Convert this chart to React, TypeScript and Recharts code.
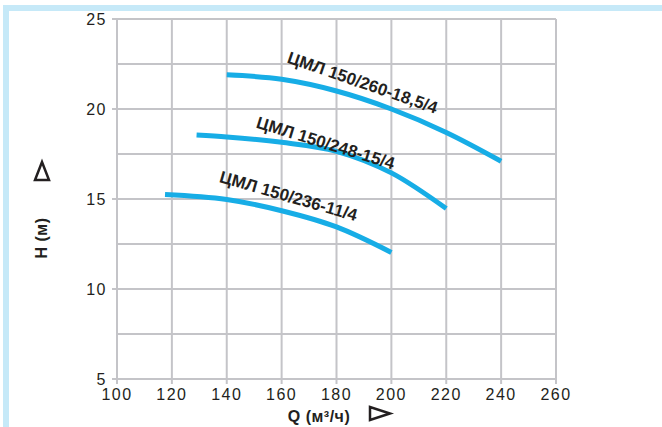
import { CartesianGrid, Customized, Line, LineChart, ReferenceDot, XAxis, YAxis } from "recharts";

const flowTicks = [100, 120, 140, 160, 180, 200, 220, 240, 260];
const headTicks = [5, 10, 15, 20, 25];
const headGrid = [5, 7.5, 10, 12.5, 15, 17.5, 20, 22.5, 25];

const flow260 = [140, 160, 180, 200, 220, 240];
const head260 = [21.9, 21.65, 21.0, 20.0, 18.7, 17.1];

const flow248 = [129, 140, 160, 180, 200, 220];
const head248 = [18.56, 18.45, 18.15, 17.65, 16.45, 14.47];

const flow236 = [117.5, 140, 160, 180, 200];
const head236 = [15.25, 14.97, 14.35, 13.45, 12.03];

const curveNames = ["ЦМЛ 150/260-18,5/4", "ЦМЛ 150/248-15/4", "ЦМЛ 150/236-11/4"];
const labelFlow = [189.5, 176, 162.5];
const labelHead = [21.45, 18.1, 15.15];
const labelAngle = [19, 17, 16];

const toRows = (q: number[], h: number[]) => q.map((v, i) => ({ q: v, h: h[i] }));

const BLUE = "#17ade6";
const GRID = "#c4c4c8";
const INK = "#231f20";
const FONT = "'Liberation Sans', Arial, sans-serif";

function CurveLabel(props: any, text: string, angle: number) {
  const { cx, cy } = props;
  return (
    <text
      x={cx}
      y={cy}
      transform={`rotate(${angle} ${cx} ${cy})`}
      textAnchor="middle"
      dominantBaseline="central"
      fontFamily={FONT}
      fontWeight="bold"
      fontSize={17}
      fill={INK}
    >
      {text}
    </text>
  );
}

function AxisTitles() {
  return (
    <g fontFamily={FONT} fontWeight="bold" fontSize={16} fill={INK}>
      <text x={319} y={422} textAnchor="middle" letterSpacing={0.5}>Q (м³/ч)</text>
      <polygon points="370,407 370,420 390,413.5" fill="none" stroke={INK} strokeWidth={2.5} strokeLinejoin="miter" />
      <text x={47} y={238} textAnchor="middle" letterSpacing={0.5} transform="rotate(-90 47 238)">H (м)</text>
      <polygon points="35,180 49,180 42,162" fill="none" stroke={INK} strokeWidth={2.5} strokeLinejoin="miter" />
    </g>
  );
}

const tickStyle = { fill: INK, fontSize: 16, fontFamily: FONT, letterSpacing: 1.5 };

export default function App() {
  return (
    <div style={{ position: "absolute", left: 0, top: 0, width: 662, height: 427, background: "#fff" }}>
      <div style={{ position: "absolute", left: 3, top: 5, width: 659, height: 6, background: "#c6e9f8" }} />
      <div style={{ position: "absolute", left: 3, top: 5, width: 6, height: 422, background: "#c6e9f8" }} />
      <div style={{ position: "absolute", left: 0, top: 0 }}>
        <LineChart width={662} height={427} margin={{ top: 19, right: 106, bottom: 18, left: 57 }}>
          <CartesianGrid
            stroke={GRID}
            strokeWidth={2}
            horizontalValues={headGrid}
            verticalValues={flowTicks}
          />
          <XAxis
            type="number"
            dataKey="q"
            domain={[100, 260]}
            ticks={flowTicks}
            allowDataOverflow
            height={30}
            stroke={GRID}
            strokeWidth={2}
            tickSize={5}
            tickMargin={5}
            tick={tickStyle}
          />
          <YAxis
            type="number"
            domain={[5, 25]}
            ticks={headTicks}
            allowDataOverflow
            width={60}
            stroke={GRID}
            strokeWidth={2}
            tickSize={5}
            tickMargin={5}
            tick={tickStyle}
          />
          <Line data={toRows(flow260, head260)} dataKey="h" type="monotone" stroke={BLUE} strokeWidth={5} dot={false} isAnimationActive={false} />
          <Line data={toRows(flow248, head248)} dataKey="h" type="monotone" stroke={BLUE} strokeWidth={5} dot={false} isAnimationActive={false} />
          <Line data={toRows(flow236, head236)} dataKey="h" type="monotone" stroke={BLUE} strokeWidth={5} dot={false} isAnimationActive={false} />
          {curveNames.map((name, i) => (
            <ReferenceDot
              key={name}
              x={labelFlow[i]}
              y={labelHead[i]}
              r={0}
              shape={(p: any) => CurveLabel(p, name, labelAngle[i])}
            />
          ))}
          <Customized component={AxisTitles} />
        </LineChart>
      </div>
    </div>
  );
}
